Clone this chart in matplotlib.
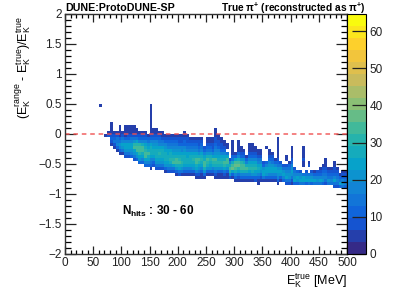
import numpy as np
import matplotlib
matplotlib.use("Agg")
import matplotlib.pyplot as plt
from matplotlib.colors import LinearSegmentedColormap
from matplotlib.ticker import MultipleLocator

plt.rcParams['font.family'] = ['Liberation Sans', 'DejaVu Sans']
plt.rcParams['mathtext.fontset'] = 'custom'
plt.rcParams['mathtext.rm'] = 'Liberation Sans'
plt.rcParams['mathtext.bf'] = 'Liberation Sans:bold'
plt.rcParams['mathtext.it'] = 'Liberation Sans:italic'

# Histogram: one entry per 5 MeV column starting at 70 MeV.
# column_tops = upper edge of first cell; each char = one 0.05 cell going down (a shade level, base 36)
column_tops = [0.0, .05, .2, .05, .05, .15, .05, .15, .15, .15, .15, .1, .05, .05, .05, 0.0, .5, .1, .1,
               .05, .05, 0.0, 0.0, 0.0, 0.0, 0.0, 0.0, 0.0, .05, 0.0, -.05, -.05, -.05, -.05, -.05, -.2,
               -.05, -.05, -.05, .1, 0.0, -.05, -.1, -.15, -.4, -.1, -.3, -.1, -.2, -.25, -.35, -.15, -.15,
               -.2, -.25, -.25, -.45, -.2, -.25, -.3, -.4, -.05, -.45, -.5, -.35, -.45, -.2, -.55, -.6, -.6,
               -.2, -.6, -.45, -.6, -.6, -.6, -.55, -.5, -.4, -.55, -.55, -.45, -.55, -.65, -.6, -.6]
column_counts = [
    "1", "13", "11113642", "136741", "1378a52", "111268ba62", "1479cb72", "111269ccb73",
    "11136accb84", "11247adcb95", "11247bgidb73", "1247cgihdb6", "136agiigdb6", "136afhhfc95",
    "1359cegihda5", "258bdfhfca6", "2222122122369cefeca752", "12369bdfeda63", "12359bdeeedb73",
    "1358adfgfdb84", "1247adefecb73", "2369bdefecb62", "2358acdefdb73", "2358acefgeb73",
    "2357abdfghd84", "13579bdfhhfb62", "13469bcegifc83", "13469acefgeb72", "113569bcefec962",
    "13468acdefc952", "13579cefeda52", "1358adfgfdb62", "13579cfhhec942", "13468bfhgdb831",
    "13579cfgfda621", "369cfihfb52", "12358bfhgeb62", "12358bfgfdb62", "113469dhgea51",
    "11133589bdhgeb731", "123469bdfgeb621", "12346adfgfb621", "12369cfhgc731", "1208chhfb621",
    "3afigb4", "1111258ehjd62", "26cijhea51", "112259eijgc741", "1236bgiifa51", "136bfhhe952",
    "25afhfa51", "122359dfgda51", "11236adfgeb62", "1236adegdb63", "1237aceca621", "1247acdb842",
    "36bdc72", "200005acdb62", "12469bdca51", "1358bcda62", "25acda51", "2121212358bcba62",
    "37bcb62", "38bca5", "22037abc84", "258abb73", "1222469bcb831", "37abc5", "5acb6", "4abc7",
    "2222322008cd7", "37bc6", "23007bc7", "37bc6", "259c7", "359b7", "2469c7", "23579b6",
    "122458a73", "2468b7", "2357a7", "223469c83", "2358a83", "258c6", "2369b7", "2358a6",
]
# Count for each shade level 0..19, read against the colour bar
level_counts = [0, 4, 5, 7, 8, 10, 11, 13, 15, 17, 19, 21, 23, 25, 27, 29, 31, 33, 35, 37]
extra_cell_energy = [60.0]
extra_cell_top = [.5]
extra_cell_count = [6]

x_tick_labels = [0, 50, 100, 150, 200, 250, 300, 350, 400, 450, 500]
y_tick_labels = ['−2', '−1.5', '−1', '−0.5', '0', '0.5', '1', '1.5', '2']
z_ticks = [0, 10, 20, 30, 40, 50, 60]
z_max = 64.6

E_edges = np.arange(0, 505, 5.0)
y_edges = np.round(np.arange(-1.0, 0.6001, 0.05), 2)
H = np.zeros((len(y_edges) - 1, len(E_edges) - 1))


def put(E_start, top, count):
    col = int(round(E_start / 5))
    row = int(round((top + 1.0) / 0.05)) - 1
    H[row, col] = count


for i, (top, chars) in enumerate(zip(column_tops, column_counts)):
    for k, c in enumerate(chars):
        put(70 + 5 * i, top - 0.05 * k, level_counts[int(c, 36)])
for e, t, c in zip(extra_cell_energy, extra_cell_top, extra_cell_count):
    put(e, t, c)

bird = LinearSegmentedColormap.from_list('bird', list(zip(
    [0, .125, .25, .375, .5, .625, .75, .875, 1],
    [(0.2082, 0.1664, 0.5293), (0.0592, 0.3599, 0.8684), (0.0780, 0.5041, 0.8385),
     (0.0232, 0.6419, 0.7914), (0.1802, 0.7178, 0.6425), (0.5301, 0.7492, 0.4662),
     (0.8186, 0.7328, 0.3499), (0.9956, 0.7862, 0.1968), (0.9764, 0.9832, 0.0539)])), N=20)

W, H_px = 407, 292
fig = plt.figure(figsize=(W / 100, H_px / 100), dpi=100)
ax = fig.add_axes([65 / W, 1 - 254 / H_px, 282 / W, 240 / H_px])
mesh = ax.pcolormesh(E_edges, y_edges, np.ma.masked_equal(H, 0), cmap=bird, vmin=0, vmax=z_max)
ax.axhline(0, color='#f0504f', lw=1.1, ls=(0, (3, 2.5)), alpha=.9)
ax.set_xlim(0, 500)
ax.set_ylim(-2, 2)
ax.set_xticks(x_tick_labels)
ax.set_xticklabels([str(v) for v in x_tick_labels])
ax.set_yticks([-2, -1.5, -1, -.5, 0, .5, 1, 1.5, 2])
ax.set_yticklabels(y_tick_labels)
ax.xaxis.set_minor_locator(MultipleLocator(10))
ax.yaxis.set_minor_locator(MultipleLocator(.1))
ax.tick_params(which='major', direction='in', top=True, right=True, length=6, width=.9, labelsize=8.5, pad=2.5, colors='#222222')
ax.tick_params(which='minor', direction='in', top=True, right=True, length=3, width=.9)
ax.tick_params(axis='y', which='major', length=8)
ax.tick_params(axis='y', which='minor', length=4)
for s in ax.spines.values():
    s.set_linewidth(1.0)
    s.set_color('#333333')

cax = fig.add_axes([347 / W, 1 - 254 / H_px, 19 / W, 240 / H_px])
fig.colorbar(mesh, cax=cax, ticks=z_ticks)
cax.tick_params(direction='in', length=10, width=.9, labelsize=8.5, pad=2.5, colors='#222222')
cax.minorticks_off()

fig.text(65 / W, 1 - 8 / H_px, 'DUNE:ProtoDUNE-SP', fontsize=7.7, fontweight='bold', ha='left', va='center')
fig.text(366 / W, 1 - 8 / H_px, r'True $\mathbf{\pi^{+}}$ (reconstructed as $\mathbf{\pi^{+}}$)', fontsize=7.3,
         fontweight='bold', ha='right', va='center')
fig.text(347 / W, 1 - 281 / H_px, r'$\mathrm{E_{K}^{true}}$ [MeV]', fontsize=9, ha='right', va='center')
fig.text(23 / W, 1 - 16 / H_px, r'$\mathrm{(E_{K}^{range}}$ - $\mathrm{E_{K}^{true})/E_{K}^{true}}$', fontsize=9,
         rotation=90, ha='center', va='top')
ax.text(122 / W, 1 - 211 / H_px, r'$\mathbf{N_{hits}}$ : 30 - 60', transform=fig.transFigure, fontsize=8.5,
        fontweight='bold', ha='left', va='center')
fig.savefig('out.png', dpi=100)
